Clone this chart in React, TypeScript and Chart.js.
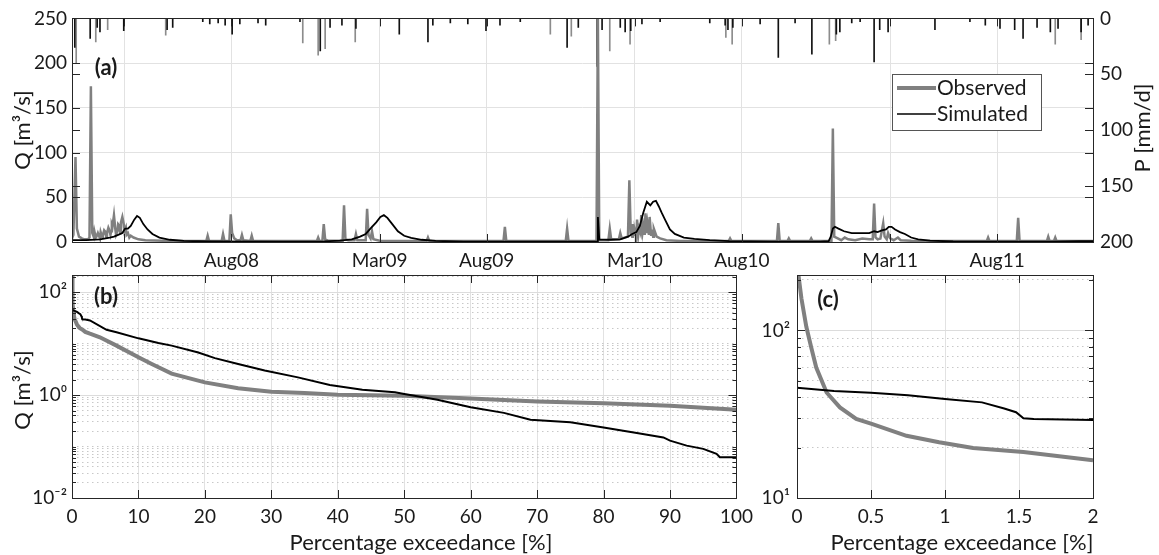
import React, { useEffect, useRef } from 'react';
import { Chart, registerables } from 'chart.js';
Chart.register(...registerables);

const FONT = 'Lato, "Open Sans", sans-serif';
const TXT = '#1a1a1a';
const GRID = '#e2e2e2';
const OBS = '#808080';

// ---------- Panel (a): time series (x = days since 17 Dec 2007) ----------
const dayTicks = [75, 228, 440, 593, 805, 958, 1170, 1323];
const dayTickLabels = ['Mar08', 'Aug08', 'Mar09', 'Aug09', 'Mar10', 'Aug10', 'Mar11', 'Aug11'];
const qTicks = [0, 50, 100, 150, 200, 250];
const pTicks = [0, 50, 100, 150, 200];

const obsDays = [0, 2, 5, 7, 10, 14, 18, 23, 25, 27, 29, 31, 32, 34, 35, 37, 38, 40, 41, 43, 44, 46, 47, 49, 50, 52, 53, 55, 56, 57, 58, 60, 62, 63, 65, 66, 68, 69, 70, 72, 74, 75, 77, 78, 80, 82, 84, 88, 95, 105, 130, 160, 192, 194, 196, 214, 216, 218, 225, 227, 229, 232, 236, 241, 243, 245, 255, 257, 259, 350, 352, 354, 358, 360, 362, 366, 387, 389, 391, 395, 404, 406, 408, 420, 422, 424, 427, 429, 431, 440, 507, 509, 511, 617, 619, 621, 706, 708, 710, 750, 752, 754, 767, 769, 771, 782, 784, 786, 795, 797, 799, 801, 802, 804, 805, 807, 808, 810, 811, 813, 814, 816, 817, 819, 820, 822, 823, 825, 826, 828, 829, 831, 832, 836, 841, 850, 870, 939, 941, 943, 1008, 1010, 1012, 1023, 1025, 1027, 1055, 1057, 1059, 1086, 1088, 1090, 1095, 1100, 1105, 1110, 1120, 1130, 1140, 1145, 1147, 1149, 1152, 1156, 1160, 1162, 1165, 1167, 1170, 1175, 1181, 1185, 1200, 1308, 1310, 1312, 1351, 1353, 1355, 1394, 1396, 1398, 1404, 1406, 1408, 1460];
const obsQ = [4, 8, 95, 15, 6, 4, 3, 3, 5, 174, 10, 6, 12, 5, 6, 10, 8, 4, 11, 6, 7, 13, 12, 6, 10, 16, 14, 8, 12, 20, 18, 30, 14, 8, 12, 20, 18, 10, 22, 28, 20, 12, 16, 8, 10, 5, 7, 5, 3, 2, 1.5, 1.2, 1, 7, 1, 1, 9, 1.5, 1, 31, 10, 4, 2, 2, 8, 2, 1, 7, 1, 1, 5, 1, 1, 20, 3, 1.5, 1.5, 41, 3, 2, 2, 9, 2, 2, 37, 8, 4, 12, 3, 1.5, 1, 5, 1, 1, 17, 1.5, 1, 15, 1, 1, 250, 2, 2, 15, 3, 3, 10, 4, 6, 69, 10, 6, 20, 8, 12, 5, 25, 9, 15, 10, 30, 12, 18, 8, 32, 10, 20, 8, 28, 8, 14, 6, 15, 6, 4, 2, 1.2, 1, 4, 1, 1, 21, 1, 1, 4, 1, 1, 4, 1, 1, 127, 6, 4, 2, 5, 3, 2, 4, 3, 3, 43, 5, 3, 4, 21, 6, 3, 10, 4, 2, 5, 2, 1.5, 1, 5, 1, 1, 27, 1, 1, 6, 1, 1, 5, 1, 1];

const simDays = [0, 20, 40, 54, 60, 66, 72, 76, 80, 84, 89, 93, 97, 102, 108, 115, 125, 140, 160, 200, 300, 360, 383, 400, 412, 420, 428, 435, 441, 446, 451, 458, 466, 475, 485, 500, 520, 560, 700, 750, 751, 752, 754, 770, 784, 795, 801, 807, 812, 817, 822, 827, 831, 835, 839, 843, 848, 855, 862, 875, 890, 912, 940, 1000, 1070, 1082, 1085, 1088, 1091, 1096, 1104, 1115, 1128, 1140, 1147, 1152, 1158, 1164, 1168, 1172, 1177, 1184, 1191, 1200, 1210, 1227, 1260, 1400, 1440, 1460];
const simQ = [2, 2, 3, 5, 6, 8, 10, 15, 15, 18, 25, 29, 27, 20, 14, 9, 5, 2.5, 1.2, 0.6, 0.4, 0.7, 1.5, 3, 6, 9, 16, 22, 28, 30, 27, 20, 12, 7, 4.5, 2.5, 1.2, 0.5, 0.3, 0.4, 0.5, 28, 3, 2.5, 3, 6, 9, 11, 18, 33, 45, 41, 45, 46, 40, 33, 25, 14, 9, 5, 3.5, 2, 1, 0.4, 0.4, 1, 6, 15, 17, 15, 12, 10, 10, 10, 12, 11, 13, 14, 17, 17, 14, 11, 9, 5, 3, 1.5, 0.6, 0.4, 1, 1];

const rainBlackDays = [4, 26, 36, 40, 74, 136, 144, 187, 197, 209, 219, 229, 240, 266, 277, 326, 355, 369, 386, 406, 468, 509, 516, 541, 566, 592, 612, 641, 708, 724, 751, 758, 784, 791, 799, 815, 841, 912, 934, 938, 945, 984, 1010, 1034, 1058, 1093, 1098, 1115, 1127, 1147, 1155, 1167, 1234, 1284, 1306, 1327, 1348, 1360, 1380, 1399, 1410, 1443, 1453];
const rainBlackMm = [26, 18, 8, 12, 11, 10, 8, 3, 5, 4, 6, 14, 5, 4, 6, 3, 29, 8, 6, 9, 14, 21, 6, 4, 5, 11, 6, 3, 26, 8, 43, 10, 8, 12, 11, 5, 3, 4, 6, 10, 8, 5, 35, 4, 32, 14, 12, 4, 3, 39, 10, 12, 10, 3, 6, 9, 10, 18, 8, 12, 9, 12, 6];
const rainGrayDays = [6, 34, 51, 134, 330, 352, 362, 405, 684, 714, 769, 798, 935, 944, 1083, 1092, 1406, 1443];
const rainGrayMm = [40, 21, 10, 15, 22, 33, 27, 21, 14, 16, 29, 23, 17, 23, 23, 20, 23, 19];

// ---------- Panels (b) and (c): flow duration curves ----------
const obsFdcPct = [0, 0.03, 0.063, 0.097, 0.13, 0.2, 0.29, 0.4, 0.51, 0.74, 0.96, 1.19, 1.53, 2, 2.7, 4.2, 6.7, 10, 12, 15, 20, 25, 30, 35, 40, 50, 60, 70, 80, 90, 100];
const obsFdcQ = [250, 155, 105, 78.5, 60, 42.6, 34.7, 29.6, 27.6, 23.5, 21.5, 19.9, 18.8, 16.8, 15.5, 13.2, 9.1, 5.4, 4.0, 2.6, 1.76, 1.35, 1.16, 1.09, 1.01, 0.97, 0.86, 0.75, 0.69, 0.62, 0.52];
const simFdcPct = [0, 0.25, 0.5, 0.75, 1.0, 1.25, 1.4, 1.48, 1.53, 1.6, 2.0, 2.7, 5.2, 6.7, 10, 13, 15, 19, 21.5, 25, 29, 34, 38.8, 43.7, 48.6, 50, 55, 60, 65, 69, 75, 80, 85, 89, 90, 92.5, 95, 97, 97.5, 100];
const simFdcQ = [45.5, 43.5, 42.5, 41, 38.9, 37.2, 34.2, 32.5, 29.9, 29.6, 29.2, 28, 18.5, 16.5, 12.6, 10.2, 9.1, 6.7, 5.2, 4.0, 3.0, 2.2, 1.56, 1.27, 1.13, 1.05, 0.81, 0.58, 0.45, 0.33, 0.295, 0.235, 0.183, 0.15, 0.13, 0.104, 0.09, 0.072, 0.062, 0.062];
const pctTicksB = [0, 10, 20, 30, 40, 50, 60, 70, 80, 90, 100];
const pctTicksC = [0, 0.5, 1, 1.5, 2];
const logLabelsB: Record<string, string> = { '0.01': '10⁻²', '1': '10⁰', '100': '10²' };
const logLabelsC: Record<string, string> = { '10': '10¹', '100': '10²' };

const pts = (xs: number[], ys: number[]) => xs.map((x, i) => ({ x, y: ys[i] }));

function logTicks(e0: number, e1: number, max: number) {
  const out: number[] = [];
  for (let e = e0; e <= e1; e++) {
    for (let m = 1; m <= 9; m++) {
      const v = parseFloat((m * Math.pow(10, e)).toPrecision(6));
      if (v <= max) out.push(v);
    }
  }
  return out;
}
const keyOf = (v: number) => String(parseFloat(Number(v).toPrecision(6)));

type Txt = { text: string; x: number; y: number; size: number; bold?: boolean; rot?: boolean };

function decor(offX: number, offY: number, texts: Txt[], legend?: boolean) {
  return {
    id: 'decor',
    afterDraw(chart: any) {
      const ctx = chart.ctx as CanvasRenderingContext2D;
      const a = chart.chartArea;
      ctx.save();
      ctx.strokeStyle = '#262626';
      ctx.lineWidth = 1;
      Object.values(chart.scales).forEach((s: any) => {
        s.ticks.forEach((t: any) => {
          const len = t.label === '' ? 4 : 8;
          ctx.beginPath();
          if (s.isHorizontal()) {
            const p = Math.round(s.getPixelForValue(t.value)) + 0.5;
            ctx.moveTo(p, a.bottom); ctx.lineTo(p, a.bottom - len);
            ctx.moveTo(p, a.top); ctx.lineTo(p, a.top + len);
          } else {
            const p = Math.round(s.getPixelForValue(t.value)) + 0.5;
            ctx.moveTo(a.left, p); ctx.lineTo(a.left + len, p);
            ctx.moveTo(a.right, p); ctx.lineTo(a.right - len, p);
          }
          ctx.stroke();
        });
      });
      ctx.strokeRect(Math.round(a.left) + 0.5, Math.round(a.top) + 0.5, Math.round(a.right - a.left), Math.round(a.bottom - a.top));

      if (legend) {
        const lx = 892 - offX, ly = 74 - offY;
        ctx.fillStyle = '#fff';
        ctx.fillRect(lx, ly, 149, 56);
        ctx.strokeStyle = '#555';
        ctx.strokeRect(lx + 0.5, ly + 0.5, 149, 56);
        ctx.lineCap = 'butt';
        ctx.strokeStyle = OBS; ctx.lineWidth = 4;
        ctx.beginPath(); ctx.moveTo(lx + 5, ly + 14); ctx.lineTo(lx + 44, ly + 14); ctx.stroke();
        ctx.strokeStyle = '#000'; ctx.lineWidth = 1.5;
        ctx.beginPath(); ctx.moveTo(lx + 5, ly + 40); ctx.lineTo(lx + 44, ly + 40); ctx.stroke();
        ctx.fillStyle = TXT;
        ctx.font = `21px ${FONT}`;
        ctx.textAlign = 'left';
        ctx.textBaseline = 'middle';
        ctx.fillText('Observed', lx + 45, ly + 14);
        ctx.fillText('Simulated', lx + 45, ly + 40);
      }

      texts.forEach((t) => {
        ctx.save();
        ctx.fillStyle = TXT;
        ctx.font = `${t.bold ? 'bold ' : ''}${t.size}px ${FONT}`;
        ctx.textAlign = 'center';
        ctx.textBaseline = 'middle';
        ctx.translate(t.x - offX, t.y - offY);
        if (t.rot) ctx.rotate(-Math.PI / 2);
        ctx.fillText(t.text, 0, 0);
        ctx.restore();
      });
      ctx.restore();
    },
  };
}

const tickFont = { family: FONT, size: 19 };

function makeA(canvas: HTMLCanvasElement) {
  return new Chart(canvas, {
    type: 'line',
    data: {
      datasets: [
        { type: 'bar', label: 'P2', data: pts(rainGrayDays, rainGrayMm), xAxisID: 'x', yAxisID: 'yP', backgroundColor: '#8c8c8c', barThickness: 1, grouped: false, order: 3 } as any,
        { type: 'bar', label: 'P1', data: pts(rainBlackDays, rainBlackMm), xAxisID: 'x', yAxisID: 'yP', backgroundColor: '#111', barThickness: 1, grouped: false, order: 2 } as any,
        { type: 'line', label: 'Observed', data: pts(obsDays, obsQ), xAxisID: 'x', yAxisID: 'yQ', borderColor: OBS, borderWidth: 2.5, pointRadius: 0, tension: 0, order: 1 },
        { type: 'line', label: 'Simulated', data: pts(simDays, simQ), xAxisID: 'x', yAxisID: 'yQ', borderColor: '#000', borderWidth: 1.8, pointRadius: 0, tension: 0, order: 0 },
      ],
    },
    options: {
      responsive: false, animation: false, devicePixelRatio: 1,
      layout: { padding: { top: 18, left: 0, right: 0, bottom: 0 } },
      plugins: { legend: { display: false }, tooltip: { enabled: false } },
      scales: {
        x: {
          type: 'linear', min: 0, max: 1460, offset: false,
          afterBuildTicks: (s: any) => { s.ticks = dayTicks.map((v) => ({ value: v })); },
          afterFit: (s: any) => { s.height = 33; },
          ticks: { autoSkip: false, maxRotation: 0, padding: 7, font: tickFont, color: TXT, callback: (v: any) => dayTickLabels[dayTicks.indexOf(Number(v))] ?? '' },
          grid: { color: GRID, drawTicks: false, offset: false },
          border: { display: false },
        },
        yQ: {
          type: 'linear', position: 'left', min: 0, max: 250,
          afterBuildTicks: (s: any) => { s.ticks = qTicks.map((v) => ({ value: v })); },
          afterFit: (s: any) => { s.width = 72; },
          ticks: { padding: 5, font: tickFont, color: TXT },
          grid: { color: GRID, drawTicks: false },
          border: { display: false },
        },
        yP: {
          type: 'linear', position: 'right', min: 0, max: 200, reverse: true,
          afterBuildTicks: (s: any) => { s.ticks = pTicks.map((v) => ({ value: v })); },
          afterFit: (s: any) => { s.width = 66; },
          ticks: { padding: 7, font: tickFont, color: TXT },
          grid: { drawOnChartArea: false, drawTicks: false },
          border: { display: false },
        },
      },
    },
    plugins: [decor(0, 0, [
      { text: 'Q [m³/s]', x: 23, y: 130, size: 22, rot: true },
      { text: 'P [mm/d]', x: 1143, y: 128, size: 22, rot: true },
      { text: '(a)', x: 106, y: 68, size: 22, bold: true },
    ], true)],
  } as any);
}

function makeFdc(canvas: HTMLCanvasElement, panel: 'b' | 'c') {
  const isB = panel === 'b';
  const labels = isB ? logLabelsB : logLabelsC;
  const yTicks = isB ? logTicks(-2, 2, 214) : logTicks(1, 2, 214);
  const xTicks = isB ? pctTicksB : pctTicksC;
  const major = (v: any) => v !== undefined && labels[keyOf(v)] !== undefined;
  const offX = isB ? 0 : 740;
  return new Chart(canvas, {
    type: 'line',
    data: {
      datasets: [
        { label: 'Observed', data: pts(obsFdcPct, obsFdcQ), borderColor: OBS, borderWidth: 4, pointRadius: 0, tension: 0, order: 1 },
        { label: 'Simulated', data: pts(simFdcPct, simFdcQ), borderColor: '#000', borderWidth: 2, pointRadius: 0, tension: 0, order: 0 },
      ],
    },
    options: {
      responsive: false, animation: false, devicePixelRatio: 1,
      layout: { padding: { top: 20, left: 0, right: isB ? 13 : 66, bottom: 0 } },
      plugins: { legend: { display: false }, tooltip: { enabled: false } },
      scales: {
        x: {
          type: 'linear', min: 0, max: isB ? 100 : 2,
          afterBuildTicks: (s: any) => { s.ticks = xTicks.map((v) => ({ value: v })); },
          afterFit: (s: any) => { s.height = 57; },
          ticks: { autoSkip: false, maxRotation: 0, padding: 7, font: tickFont, color: TXT, callback: (v: any) => String(Number(v)) },
          grid: { color: GRID, drawTicks: false },
          border: { display: false },
        },
        y: {
          type: 'logarithmic', min: isB ? 0.01 : 10, max: 214,
          afterBuildTicks: (s: any) => { s.ticks = yTicks.map((v) => ({ value: v })); },
          afterFit: (s: any) => { s.width = isB ? 72 : 57; },
          ticks: { autoSkip: false, padding: isB ? 5 : 7, font: tickFont, color: TXT, callback: (v: any) => labels[keyOf(v)] ?? '' },
          grid: { drawTicks: false, color: (c: any) => (major(c.tick?.value) ? '#dcdcdc' : '#c8c8c8') },
          border: { display: false, dash: (c: any) => (c.tick && !major(c.tick.value) ? [1.5, 3.5] : []) },
        },
      },
    },
    plugins: [decor(offX, 255, isB ? [
      { text: 'Q [m³/s]', x: 23, y: 390, size: 22, rot: true },
      { text: 'Percentage exceedance [%]', x: 421, y: 543, size: 22 },
      { text: '(b)', x: 106, y: 297, size: 22, bold: true },
    ] : [
      { text: 'Percentage exceedance [%]', x: 962, y: 543, size: 22 },
      { text: '(c)', x: 828, y: 300, size: 22, bold: true },
    ])],
  } as any);
}

function ChartBox(props: { left: number; top: number; width: number; height: number; make: (c: HTMLCanvasElement) => Chart }) {
  const ref = useRef<HTMLCanvasElement>(null);
  const { make } = props;
  useEffect(() => {
    const ch = make(ref.current!);
    return () => ch.destroy();
  }, [make]);
  return (
    <canvas
      ref={ref}
      width={props.width}
      height={props.height}
      style={{ position: 'absolute', left: props.left, top: props.top, width: props.width, height: props.height }}
    />
  );
}

const makeB = (c: HTMLCanvasElement) => makeFdc(c, 'b');
const makeC = (c: HTMLCanvasElement) => makeFdc(c, 'c');

export default function App() {
  return (
    <div style={{ position: 'absolute', left: 0, top: 0, width: 1159, height: 555, background: '#fff', overflow: 'hidden' }}>
      <ChartBox left={0} top={0} width={1159} height={275} make={makeA} />
      <ChartBox left={0} top={255} width={760} height={300} make={makeB} />
      <ChartBox left={740} top={255} width={419} height={300} make={makeC} />
    </div>
  );
}
